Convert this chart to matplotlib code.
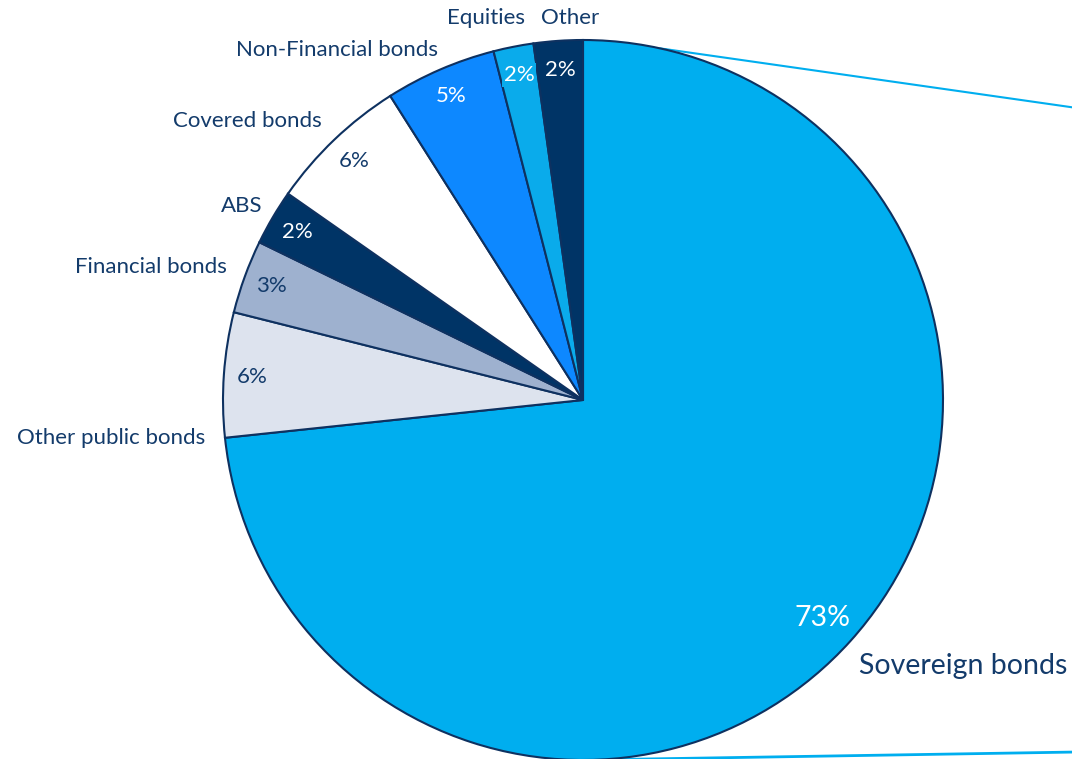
import matplotlib
matplotlib.use("Agg")
import matplotlib.pyplot as plt
import numpy as np

# data (share of portfolio, %)
categories = ["Sovereign bonds", "Other public bonds", "Financial bonds", "ABS",
              "Covered bonds", "Non-Financial bonds", "Equities", "Other"]
shares = [73.4, 5.6, 3.3, 2.5, 6.3, 5.0, 1.8, 2.2]

colors = ["#00AEEF", "#DDE3EE", "#9EB1CF", "#003466",
          "#FFFFFF", "#0D88FF", "#0AABEB", "#003466"]
pct_colors = ["white", "#133B6B", "#133B6B", "white",
              "#133B6B", "white", "white", "white"]
# label positions in image pixels (x, y from top)
label_pos = [(963, 666), (111, 438), (151, 267), (242, 206),
             (247, 121), (337, 50), (486, 18), (570, 18)]

W, H = 1072, 759
navy = "#133B6B"
plt.rcParams['font.family'] = ['Lato', 'DejaVu Sans']

fig = plt.figure(figsize=(W / 100, H / 100), dpi=100)
ax = fig.add_axes([0, 0, 1, 1])

cx, cy, r = 583, H - 400, 360
wedges, texts, autotexts = ax.pie(
    shares, colors=colors, startangle=90, counterclock=False,
    center=(cx, cy), radius=r, autopct='%.0f%%', pctdistance=0.92,
    wedgeprops=dict(edgecolor="#0E3160", linewidth=1.5),
    textprops=dict(fontsize=16))

for t, c in zip(autotexts, pct_colors):
    t.set_color(c)
autotexts[0].set_fontsize(20.5)
autotexts[0].set_position((cx + 0.9 * r * np.cos(np.radians(-42.4)),
                           cy + 0.9 * r * np.sin(np.radians(-42.4))))
autotexts[6].set_bbox(dict(facecolor=colors[6], edgecolor="none", pad=1.5))

for i, (name, (x, y)) in enumerate(zip(categories, label_pos)):
    ax.text(x, H - y, name, ha='center', va='center', color=navy,
            fontsize=20.5 if i == 0 else 16)

# connector lines towards the (cropped) secondary chart
ang_top = np.radians(77.6)
ax.plot([cx + r * np.cos(ang_top), W + 5], [cy + r * np.sin(ang_top), H - 108],
        color="#00AEEF", lw=1.5, clip_on=False, zorder=0)
ax.plot([cx, W + 5], [cy - r, H - 752], color="#00AEEF", lw=2,
        clip_on=False, zorder=0)

ax.set_xlim(0, W)
ax.set_ylim(0, H)
ax.set_aspect('equal')
ax.axis('off')

fig.savefig("out.png", dpi=100, facecolor="white")
